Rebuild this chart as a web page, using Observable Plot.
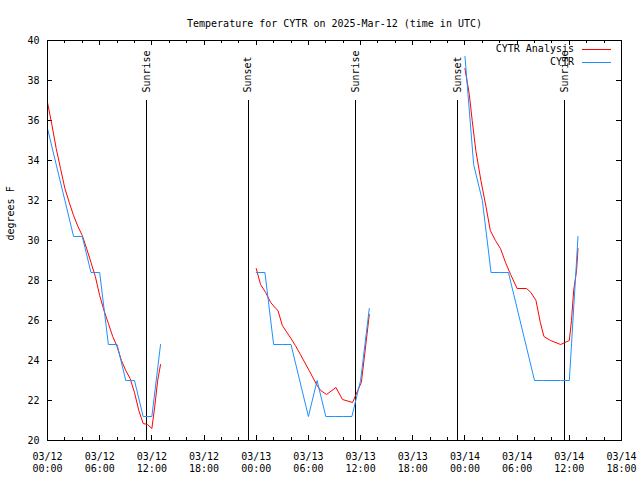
<!DOCTYPE html>
<html>
<head>
<meta charset="utf-8">
<script src="https://cdn.jsdelivr.net/npm/d3@7"></script>
<script src="https://cdn.jsdelivr.net/npm/@observablehq/plot@0.6"></script>
<style>
  html, body { margin: 0; padding: 0; background: #fff; }
  svg { display: block; }
</style>
</head>
<body>
<div id="chart"></div>
<script>
// ---------- data ----------
const titleText = "Temperature for CYTR on 2025-Mar-12 (time in UTC)";
const yLabelText = "degrees F";
const seriesNames = ["CYTR Analysis", "CYTR"];
const seriesColors = ["#ff0000", "#1e90ff"];
const xDomain = ["2025-03-12 00:00", "2025-03-14 18:00"];
const yDomain = [20, 40];
const yTickValues = [20, 22, 24, 26, 28, 30, 32, 34, 36, 38, 40];

// CYTR observations (null = gap)
const obsTimes = [
  "2025-03-12 00:00", "2025-03-12 01:00", "2025-03-12 02:00", "2025-03-12 03:00",
  "2025-03-12 04:00", "2025-03-12 05:00", "2025-03-12 06:00", "2025-03-12 07:00",
  "2025-03-12 08:00", "2025-03-12 09:00", "2025-03-12 10:00", "2025-03-12 11:00",
  "2025-03-12 12:00", "2025-03-12 13:00",
  "2025-03-12 18:00",
  "2025-03-13 00:00", "2025-03-13 01:00", "2025-03-13 02:00", "2025-03-13 03:00",
  "2025-03-13 04:00", "2025-03-13 06:00", "2025-03-13 07:00", "2025-03-13 08:00",
  "2025-03-13 09:00", "2025-03-13 10:00", "2025-03-13 11:00", "2025-03-13 12:00",
  "2025-03-13 13:00",
  "2025-03-13 18:00",
  "2025-03-14 00:00", "2025-03-14 01:00", "2025-03-14 02:00", "2025-03-14 03:00",
  "2025-03-14 04:00", "2025-03-14 05:00", "2025-03-14 08:00", "2025-03-14 09:00",
  "2025-03-14 10:00", "2025-03-14 11:00", "2025-03-14 12:00", "2025-03-14 13:00"
];
const obsTemps = [
  35.6, 33.8, 32.0, 30.2,
  30.2, 28.4, 28.4, 24.8,
  24.8, 23.0, 23.0, 21.2,
  21.2, 24.8,
  null,
  28.4, 28.4, 24.8, 24.8,
  24.8, 21.2, 23.0, 21.2,
  21.2, 21.2, 21.2, 23.0,
  26.6,
  null,
  39.2, 33.8, 32.0, 28.4,
  28.4, 28.4, 23.0, 23.0,
  23.0, 23.0, 23.0, 30.2
];

// CYTR Analysis (null = gap)
const anaTimes = [
  "2025-03-12 00:00", "2025-03-12 00:30", "2025-03-12 01:00", "2025-03-12 01:30",
  "2025-03-12 02:00", "2025-03-12 02:30", "2025-03-12 03:00", "2025-03-12 03:30",
  "2025-03-12 04:00", "2025-03-12 04:30", "2025-03-12 05:00", "2025-03-12 05:30",
  "2025-03-12 06:00", "2025-03-12 06:30", "2025-03-12 07:00", "2025-03-12 07:30",
  "2025-03-12 08:00", "2025-03-12 08:30", "2025-03-12 09:00", "2025-03-12 09:30",
  "2025-03-12 10:00", "2025-03-12 10:30", "2025-03-12 11:00", "2025-03-12 11:30",
  "2025-03-12 12:00", "2025-03-12 12:20", "2025-03-12 12:40", "2025-03-12 13:00",
  "2025-03-12 18:00",
  "2025-03-13 00:00", "2025-03-13 00:30", "2025-03-13 01:05", "2025-03-13 01:40",
  "2025-03-13 02:15", "2025-03-13 02:30", "2025-03-13 03:00", "2025-03-13 04:00",
  "2025-03-13 04:30", "2025-03-13 05:05", "2025-03-13 06:05", "2025-03-13 07:00",
  "2025-03-13 07:25", "2025-03-13 08:05", "2025-03-13 09:10", "2025-03-13 09:55",
  "2025-03-13 11:05", "2025-03-13 11:40", "2025-03-13 12:05", "2025-03-13 12:25",
  "2025-03-13 13:00",
  "2025-03-13 18:00",
  "2025-03-14 00:00", "2025-03-14 00:30", "2025-03-14 00:50", "2025-03-14 01:15",
  "2025-03-14 01:50", "2025-03-14 02:25", "2025-03-14 02:55", "2025-03-14 03:30",
  "2025-03-14 04:05", "2025-03-14 04:40", "2025-03-14 05:15", "2025-03-14 06:00",
  "2025-03-14 07:05", "2025-03-14 07:35", "2025-03-14 08:10", "2025-03-14 08:40",
  "2025-03-14 09:05", "2025-03-14 09:50", "2025-03-14 11:00", "2025-03-14 12:00",
  "2025-03-14 12:15", "2025-03-14 12:30", "2025-03-14 12:50", "2025-03-14 13:00"
];
const anaTemps = [
  36.9, 35.8, 34.6, 33.6,
  32.6, 31.9, 31.25, 30.7,
  30.25, 29.6, 28.9, 28.2,
  27.25, 26.5, 25.85, 25.2,
  24.7, 24.0, 23.5, 23.1,
  22.4, 21.5, 20.85, 20.8,
  20.6, 21.7, 23.0, 23.8,
  null,
  28.6, 27.8, 27.4, 26.9,
  26.6, 26.5, 25.75, 25.1,
  24.75, 24.3, 23.5, 22.75,
  22.5, 22.3, 22.65, 22.05,
  21.9, 22.5, 22.9, 24.1,
  26.3,
  null,
  38.6, 37.3, 36.0, 34.5,
  33.0, 31.7, 30.5, 30.0,
  29.6, 28.9, 28.3, 27.6,
  27.6, 27.4, 27.0, 25.9,
  25.2, 25.0, 24.8, 25.0,
  26.0, 27.5, 28.5, 29.6
];

// Sunrise / sunset markers
const eventTimes = [
  "2025-03-12 11:26", "2025-03-12 23:04", "2025-03-13 11:28",
  "2025-03-13 23:12", "2025-03-14 11:30"
];
const eventLabels = ["Sunrise", "Sunset", "Sunrise", "Sunset", "Sunrise"];

// ---------- build ----------
const parse = d3.utcParse("%Y-%m-%d %H:%M");
const obs = obsTimes.map((t, i) => ({time: parse(t), temp: obsTemps[i]}));
const ana = anaTimes.map((t, i) => ({time: parse(t), temp: anaTemps[i]}));
const events = eventTimes.map((t, i) => ({time: parse(t), label: eventLabels[i]}));

const W = 640, H = 480, mL = 47, mR = 19, mT = 40, mB = 40;
const fw = W - mL - mR, fh = H - mT - mB;
const x0 = parse(xDomain[0]), x1 = parse(xDomain[1]);
const majorX = d3.utcHour.every(6).range(x0, new Date(+x1 + 1));
const minorX = d3.utcHour.every(2).range(x0, new Date(+x1 + 1)).filter(d => d.getUTCHours() % 6 !== 0);
const fmtDay = d3.utcFormat("%m/%d"), fmtHour = d3.utcFormat("%H:%M");

function legendMark(index, scales, values, dimensions) {
  const g = d3.create("svg:g");
  const right = dimensions.width - dimensions.marginRight;
  seriesNames.forEach((name, i) => {
    const y = dimensions.marginTop + 9 + i * 13;
    g.append("text")
      .attr("x", right - 47).attr("y", y)
      .attr("text-anchor", "end").attr("dy", "0.32em")
      .attr("fill", "black")
      .text(name);
    g.append("line")
      .attr("x1", right - 39).attr("x2", right - 10)
      .attr("y1", y + 0.5).attr("y2", y + 0.5)
      .attr("stroke", seriesColors[i]).attr("stroke-width", 1)
      .attr("shape-rendering", "crispEdges");
  });
  return g.node();
}

const crisp = {shapeRendering: "crispEdges"};

const chart = Plot.plot({
  width: W, height: H,
  marginLeft: mL, marginRight: mR, marginTop: mT, marginBottom: mB,
  style: {fontFamily: "'DejaVu Sans Mono', monospace", fontSize: "10px", background: "white", color: "black"},
  x: {type: "utc", domain: [x0, x1], label: null},
  y: {domain: yDomain, label: null},
  marks: [
    // tick labels
    Plot.axisX(majorX, {tickSize: 0, tickPadding: 11, lineHeight: 1.2,
      tickFormat: d => fmtDay(d) + "\n" + fmtHour(d)}),
    Plot.axisY(yTickValues, {tickSize: 0, tickPadding: 8, tickFormat: d => String(d)}),
    // inward ticks (bottom/top, left/right)
    Plot.tickX(majorX, {x: d => d, insetTop: fh - 5, stroke: "black", ...crisp}),
    Plot.tickX(majorX, {x: d => d, insetBottom: fh - 5, stroke: "black", ...crisp}),
    Plot.tickX(minorX, {x: d => d, insetTop: fh - 3, stroke: "black", ...crisp}),
    Plot.tickX(minorX, {x: d => d, insetBottom: fh - 3, stroke: "black", ...crisp}),
    Plot.tickY(yTickValues, {y: d => d, insetRight: fw - 5, stroke: "black", ...crisp}),
    Plot.tickY(yTickValues, {y: d => d, insetLeft: fw - 5, stroke: "black", ...crisp}),
    // sunrise / sunset
    Plot.ruleX(events, {x: "time", y1: 37, y2: yDomain[0], stroke: "black", strokeWidth: 1, ...crisp}),
    Plot.text(events, {x: "time", y: 37, text: "label", rotate: -90, textAnchor: "start", dy: -8, fill: "black"}),
    // series
    Plot.line(ana, {x: "time", y: "temp", stroke: seriesColors[0], strokeWidth: 1}),
    Plot.line(obs, {x: "time", y: "temp", stroke: seriesColors[1], strokeWidth: 1}),
    Plot.frame({stroke: "black", strokeWidth: 1, ...crisp}),
    // title & y label
    Plot.text([titleText], {text: d => d, frameAnchor: "top", dy: -21, fill: "black"}),
    Plot.text([yLabelText], {text: d => d, frameAnchor: "left", rotate: -90, dx: -37, fill: "black"}),
    legendMark
  ]
});
document.getElementById("chart").appendChild(chart);
</script>
</body>
</html>
